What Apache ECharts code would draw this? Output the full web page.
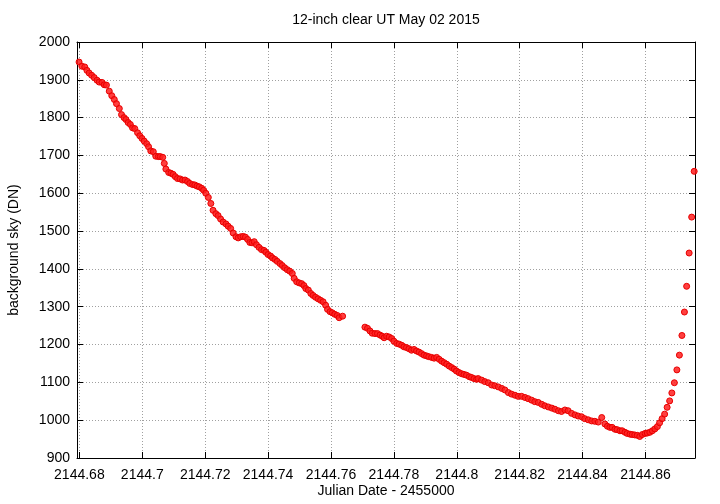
<!DOCTYPE html>
<html>
<head>
<meta charset="utf-8">
<script src="https://cdn.jsdelivr.net/npm/echarts@6/dist/echarts.min.js"></script>
<style>
html,body{margin:0;padding:0;background:#fff;}
#chart{width:720px;height:504px;}
</style>
</head>
<body>
<div id="chart"></div>
<script>
// Julian Date - 2455000
var julianDate = [
2144.6799,2144.6808,2144.6817,2144.6824,2144.6831,2144.6839,2144.6847,2144.6856,2144.6863,2144.6872,
2144.6879,2144.6886,2144.6895,2144.6903,2144.6911,2144.6918,2144.6927,2144.6934,2144.6942,2144.6948,
2144.6955,2144.6962,2144.6969,2144.6976,2144.6985,2144.6992,2144.6999,2144.7006,2144.7014,2144.7020,
2144.7027,2144.7035,2144.7043,2144.7051,2144.7057,2144.7065,2144.7070,2144.7075,2144.7084,2144.7091,
2144.7098,2144.7105,2144.7112,2144.7120,2144.7128,2144.7136,2144.7144,2144.7151,2144.7160,2144.7167,
2144.7174,2144.7181,2144.7189,2144.7195,2144.7202,2144.7210,
2144.7218,2144.7225,2144.7234,2144.7241,2144.7249,2144.7257,2144.7266,2144.7273,2144.7281,2144.7289,
2144.7298,2144.7305,2144.7313,2144.7321,2144.7328,2144.7335,2144.7342,2144.7349,2144.7356,2144.7363,
2144.7371,2144.7379,2144.7387,2144.7393,2144.7400,2144.7408,2144.7414,2144.7422,2144.7429,2144.7438,
2144.7445,2144.7453,2144.7461,2144.7469,2144.7477,2144.7483,2144.7491,2144.7499,2144.7507,2144.7514,
2144.7520,2144.7528,2144.7536,2144.7543,2144.7551,2144.7559,2144.7567,2144.7575,2144.7583,2144.7589,
2144.7597,2144.7604,2144.7612,2144.7620,2144.7626,2144.7637,
2144.7708,2144.7716,2144.7724,2144.7731,2144.7740,2144.7748,2144.7756,2144.7763,2144.7769,2144.7777,
2144.7785,2144.7793,2144.7800,2144.7809,2144.7817,2144.7825,2144.7832,2144.7840,2144.7848,2144.7856,
2144.7864,2144.7872,2144.7880,2144.7888,2144.7896,2144.7904,2144.7911,2144.7920,2144.7928,2144.7936,
2144.7944,2144.7952,2144.7960,2144.7968,2144.7976,2144.7984,2144.7992,2144.7999,2144.8007,2144.8015,
2144.8023,2144.8031,2144.8040,2144.8047,2144.8055,2144.8063,2144.8068,
2144.8079,2144.8089,2144.8100,2144.8111,2144.8121,2144.8132,2144.8143,2144.8153,2144.8164,2144.8174,
2144.8185,2144.8195,2144.8206,2144.8217,2144.8227,2144.8238,2144.8248,2144.8259,2144.8270,2144.8280,
2144.8291,2144.8302,2144.8312,2144.8323,2144.8333,2144.8344,2144.8354,2144.8365,2144.8376,2144.8386,
2144.8397,2144.8407,2144.8418,2144.8429,2144.8439,2144.8450,2144.8461,
2144.8471,2144.8479,2144.8487,2144.8494,2144.8503,2144.8510,2144.8519,2144.8526,2144.8535,2144.8542,
2144.8551,2144.8558,2144.8566,2144.8574,2144.8582,2144.8590,2144.8599,2144.8606,2144.8614,2144.8622,
2144.8630,2144.8638,2144.8645,2144.8653,2144.8661,2144.8669,2144.8677,2144.8684,2144.8692,2144.8700,
2144.8708,2144.8716,2144.8724,2144.8731,2144.8739,2144.8747,2144.8755
];
// background sky (DN)
var skyDN = [
1947,1936,1934,1925,1918,1912,1906,1899,1894,1893,
1887,1886,1870,1858,1848,1837,1824,1808,1800,1795,
1787,1782,1773,1771,1760,1752,1745,1738,1731,1723,
1712,1710,1698,1697,1697,1695,1679,1664,1655,1653,
1650,1644,1639,1638,1635,1635,1631,1626,1623,1622,
1619,1617,1613,1608,1600,1589,
1573,1555,1546,1541,1532,1524,1519,1513,1507,1495,
1485,1482,1485,1486,1484,1478,1470,1469,1472,1464,
1457,1451,1449,1444,1438,1434,1429,1425,1420,1414,
1409,1403,1398,1394,1388,1375,1366,1363,1361,1356,
1348,1344,1335,1330,1325,1321,1317,1313,1304,1293,
1287,1284,1280,1277,1271,1275,
1246,1243,1236,1230,1229,1229,1225,1222,1218,1222,
1220,1216,1209,1203,1201,1198,1194,1192,1189,1185,
1187,1183,1180,1176,1172,1170,1168,1166,1164,1166,
1161,1156,1152,1148,1143,1139,1135,1130,1126,1123,
1121,1119,1115,1113,1110,1108,1110,
1106,1102,1099,1093,1091,1088,1084,1080,1073,1069,
1066,1063,1063,1060,1057,1053,1049,1047,1042,1038,
1035,1032,1029,1025,1023,1027,1025,1018,1014,1011,
1009,1004,1001,998,997,995,1007,
990,984,981,981,976,975,972,972,968,965,
963,962,961,960,957,962,965,966,968,972,
977,983,993,1004,1016,1034,1051,1072,1099,1133,
1172,1224,1286,1354,1442,1537,1658
];
var yTicks = [900,1000,1100,1200,1300,1400,1500,1600,1700,1800,1900,2000];
var titleText = '12-inch clear UT May 02 2015';
var xName = 'Julian Date - 2455000';
var yName = 'background sky (DN)';

var points = julianDate.map(function (d, i) { return [d, skyDN[i]]; });

var FONT = 'Liberation Sans, Arial, Helvetica, sans-serif';
var X_MIN = 2144.67924, X_MAX = 2144.87576;
var gridLine = { show: true, lineStyle: { color: '#a0a0a0', width: 1, type: [1, 2] } };
var border = { show: true, onZero: false, lineStyle: { color: '#000', width: 1 } };
var tick = { show: true, inside: true, length: 6, lineStyle: { color: '#000', width: 1 } };

var chart = echarts.init(document.getElementById('chart'), null, { renderer: 'canvas' });
chart.setOption({
  animation: false,
  backgroundColor: '#fff',
  grid: { left: 77, right: 25, top: 42, bottom: 46, containLabel: false },
  xAxis: [{
    type: 'value', position: 'bottom', min: X_MIN, max: X_MAX,
    splitNumber: 10, minInterval: 0.02, maxInterval: 0.02,
    axisLine: border, axisTick: tick, splitLine: gridLine,
    axisLabel: {
      show: true, margin: 10, color: '#000', fontSize: 14, fontFamily: FONT,
      showMinLabel: false, showMaxLabel: false,
      formatter: function (v) { return String(Number(v.toFixed(2))); }
    }
  }, {
    type: 'value', position: 'top', min: X_MIN, max: X_MAX,
    splitNumber: 10, minInterval: 0.02, maxInterval: 0.02,
    axisLine: border, axisTick: tick, splitLine: { show: false }, axisLabel: { show: false }
  }],
  yAxis: [{
    type: 'value', position: 'left', min: yTicks[0], max: yTicks[yTicks.length - 1], interval: 100,
    axisLine: border, axisTick: tick, splitLine: gridLine,
    axisLabel: {
      show: true, margin: 7, color: '#000', fontSize: 14, fontFamily: FONT,
      formatter: function (v) { return String(v); }
    }
  }, {
    type: 'value', position: 'right', min: yTicks[0], max: yTicks[yTicks.length - 1], interval: 100,
    axisLine: border, axisTick: tick, splitLine: { show: false }, axisLabel: { show: false }
  }],
  graphic: [
    { type: 'text', x: 386, y: 20, style: { text: titleText, fontSize: 14, fontFamily: FONT, fill: '#000', align: 'center', verticalAlign: 'middle' } },
    { type: 'text', x: 386, y: 491, style: { text: xName, fontSize: 14, fontFamily: FONT, fill: '#000', align: 'center', verticalAlign: 'middle' } },
    { type: 'text', x: 14, y: 250, rotation: Math.PI / 2, style: { text: yName, fontSize: 14, fontFamily: FONT, fill: '#000', align: 'center', verticalAlign: 'middle' } }
  ],
  series: [{
    type: 'scatter', xAxisIndex: 0, yAxisIndex: 0,
    symbol: 'circle', symbolSize: 6,
    itemStyle: { color: 'rgba(255,30,30,0.85)', borderColor: '#e80000', borderWidth: 1, opacity: 1 },
    data: points
  }]
});
</script>
</body>
</html>
